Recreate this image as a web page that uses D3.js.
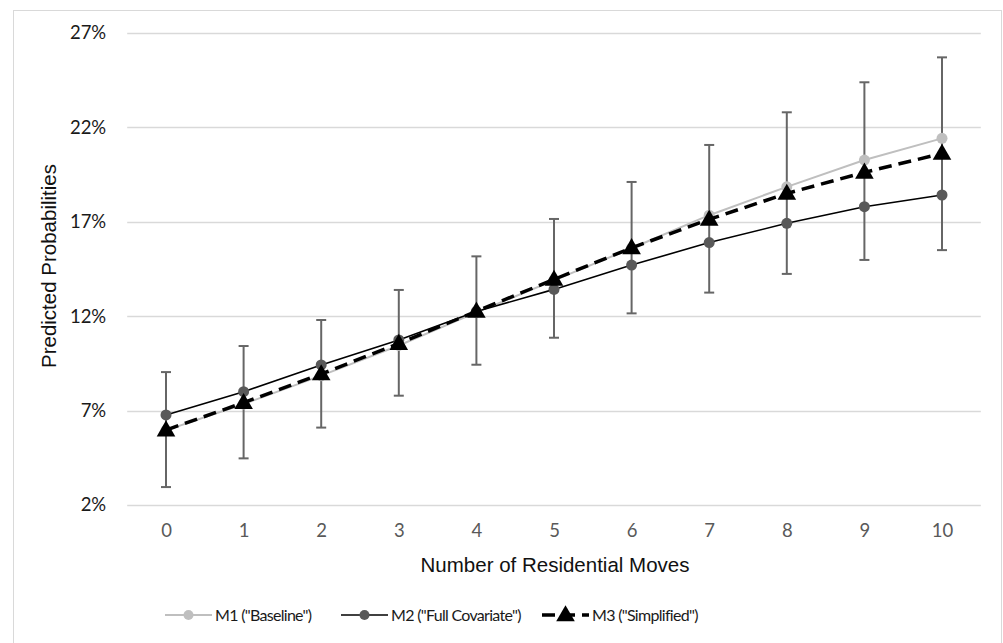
<!DOCTYPE html>
<html>
<head>
<meta charset="utf-8">
<script src="https://cdn.jsdelivr.net/npm/d3@7"></script>
<style>
	body { margin: 0; background: #fff; }
	svg { display: block; }
</style>
</head>
<body>
<div id="chart"></div>
<script>
// Data (percent)
const moves = [ 0, 1, 2, 3, 4, 5, 6, 7, 8, 9, 10 ];
const m1Baseline = [ 5.95, 7.35, 8.85, 10.45, 12.2, 13.9, 15.6, 17.35, 18.85, 20.27, 21.42 ];
const m2FullCovariate = [ 6.77, 8.0, 9.42, 10.74, 12.25, 13.42, 14.71, 15.9, 16.92, 17.8, 18.42 ];
const m3Simplified = [ 5.97, 7.42, 8.94, 10.55, 12.26, 13.95, 15.62, 17.13, 18.5, 19.62, 20.62 ];
const m3Lower = [ 2.95, 4.47, 6.1, 7.79, 9.43, 10.86, 12.15, 13.25, 14.24, 14.98, 15.5 ];
const m3Upper = [ 9.04, 10.42, 11.8, 13.39, 15.17, 17.15, 19.11, 21.07, 22.8, 24.39, 25.71 ];
const yTicks = [ 2, 7, 12, 17, 22, 27 ];
const seriesNames = [ 'M1 ("Baseline")', 'M2 ("Full Covariate")', 'M3 ("Simplified")' ];

const width = 1003,
	height = 643;

const svg = d3.select('#chart').append('svg').attr('width', width).attr('height', height);

// chart border
svg
	.append('rect')
	.attr('x', 13.5)
	.attr('y', 10.5)
	.attr('width', 988)
	.attr('height', 660)
	.attr('fill', 'none')
	.attr('stroke', '#d9d9d9');

const x = d3.scaleLinear().domain([ 0, 10 ]).range([ 166, 942 ]);
const y = d3.scaleLinear().domain([ 2, 27 ]).range([ 505, 33 ]);
const half = (x(1) - x(0)) / 2;

// gridlines
svg
	.append('g')
	.selectAll('line')
	.data(yTicks)
	.enter()
	.append('line')
	.attr('x1', x(0) - half)
	.attr('x2', x(10) + half)
	.attr('y1', (d) => Math.round(y(d)) + 0.5)
	.attr('y2', (d) => Math.round(y(d)) + 0.5)
	.attr('stroke', '#d9d9d9')
	.attr('stroke-width', 1.3);

// y axis labels
const yAxis = svg
	.append('g')
	.attr('transform', `translate(${x(0) - half}, 0)`)
	.call(d3.axisLeft(y).tickValues(yTicks).tickSize(0).tickPadding(21).tickFormat((d) => d + '%'));
yAxis.select('.domain').remove();
yAxis.selectAll('text').attr('font-family', 'Lato, "Open Sans", sans-serif').attr('font-size', '18.5px').attr('fill', '#1a1a1a');

// x axis labels
const xAxis = svg
	.append('g')
	.attr('transform', `translate(0, ${y(2)})`)
	.call(d3.axisBottom(x).tickValues(moves).tickSize(0).tickPadding(19).tickFormat(d3.format('d')));
xAxis.select('.domain').remove();
xAxis.selectAll('text').attr('font-family', 'Lato, "Open Sans", sans-serif').attr('font-size', '18.5px').attr('fill', '#595959');

// axis titles
svg
	.append('text')
	.attr('transform', 'translate(56, 266) rotate(-90)')
	.attr('text-anchor', 'middle')
	.attr('font-family', '"Liberation Sans", Arial, sans-serif')
	.attr('font-size', '20.5px')
	.attr('fill', '#111')
	.text('Predicted Probabilities');

svg
	.append('text')
	.attr('x', 555)
	.attr('y', 572)
	.attr('text-anchor', 'middle')
	.attr('font-family', '"Liberation Sans", Arial, sans-serif')
	.attr('font-size', '20.5px')
	.attr('fill', '#111')
	.text('Number of Residential Moves');

// error bars (M3)
const bars = svg.append('g').attr('stroke', '#666').attr('stroke-width', 2);
moves.forEach(function(d, i) {
	bars.append('line').attr('x1', x(d)).attr('x2', x(d)).attr('y1', y(m3Lower[i])).attr('y2', y(m3Upper[i]));
	bars.append('line').attr('x1', x(d) - 5).attr('x2', x(d) + 5).attr('y1', y(m3Lower[i])).attr('y2', y(m3Lower[i]));
	bars.append('line').attr('x1', x(d) - 5).attr('x2', x(d) + 5).attr('y1', y(m3Upper[i])).attr('y2', y(m3Upper[i]));
});

const line = d3.line().x((d, i) => x(moves[i])).y((d) => y(d));
const triangle = d3.symbol().type(d3.symbolTriangle).size(150);

// M1
svg.append('path').datum(m1Baseline).attr('d', line).attr('fill', 'none').attr('stroke', '#bfbfbf').attr('stroke-width', 2);
svg
	.append('g')
	.selectAll('circle')
	.data(m1Baseline)
	.enter()
	.append('circle')
	.attr('cx', (d, i) => x(moves[i]))
	.attr('cy', (d) => y(d))
	.attr('r', 5.5)
	.attr('fill', '#bfbfbf');

// M2
svg.append('path').datum(m2FullCovariate).attr('d', line).attr('fill', 'none').attr('stroke', '#000').attr('stroke-width', 1.6);
svg
	.append('g')
	.selectAll('circle')
	.data(m2FullCovariate)
	.enter()
	.append('circle')
	.attr('cx', (d, i) => x(moves[i]))
	.attr('cy', (d) => y(d))
	.attr('r', 5.5)
	.attr('fill', '#595959');

// M3
svg
	.append('path')
	.datum(m3Simplified)
	.attr('d', line)
	.attr('fill', 'none')
	.attr('stroke', '#000')
	.attr('stroke-width', 3.5)
	.attr('stroke-dasharray', '13,7');
svg
	.append('g')
	.selectAll('path')
	.data(m3Simplified)
	.enter()
	.append('path')
	.attr('d', triangle)
	.attr('transform', (d, i) => `translate(${x(moves[i])}, ${y(d) + 1})`)
	.attr('fill', '#000');

// legend
const legendX = [ 165, 341, 542 ];
const legendY = 615;
const legend = svg.append('g');
legendX.forEach(function(lx, i) {
	const g = legend.append('g').attr('transform', `translate(${lx}, ${legendY})`);
	if (i == 0) {
		g.append('line').attr('x1', 0).attr('x2', 47).attr('stroke', '#bfbfbf').attr('stroke-width', 2);
		g.append('circle').attr('cx', 23.5).attr('r', 5).attr('fill', '#bfbfbf');
	} else if (i == 1) {
		g.append('line').attr('x1', 0).attr('x2', 47).attr('stroke', '#000').attr('stroke-width', 1.6);
		g.append('circle').attr('cx', 23.5).attr('r', 5).attr('fill', '#595959');
	} else {
		g.append('line').attr('x1', 0).attr('x2', 47).attr('stroke', '#000').attr('stroke-width', 3.5).attr('stroke-dasharray', '13,7');
		g.append('path').attr('d', triangle).attr('transform', 'translate(23.5, 1)').attr('fill', '#000');
	}
	g
		.append('text')
		.attr('x', 50)
		.attr('y', 0)
		.attr('dy', '0.35em')
		.attr('font-family', 'Lato, "Open Sans", sans-serif')
		.attr('font-size', '16px')
		.attr('letter-spacing', '-0.7px')
		.attr('fill', '#1a1a1a')
		.text(seriesNames[i]);
});
</script>
</body>
</html>
